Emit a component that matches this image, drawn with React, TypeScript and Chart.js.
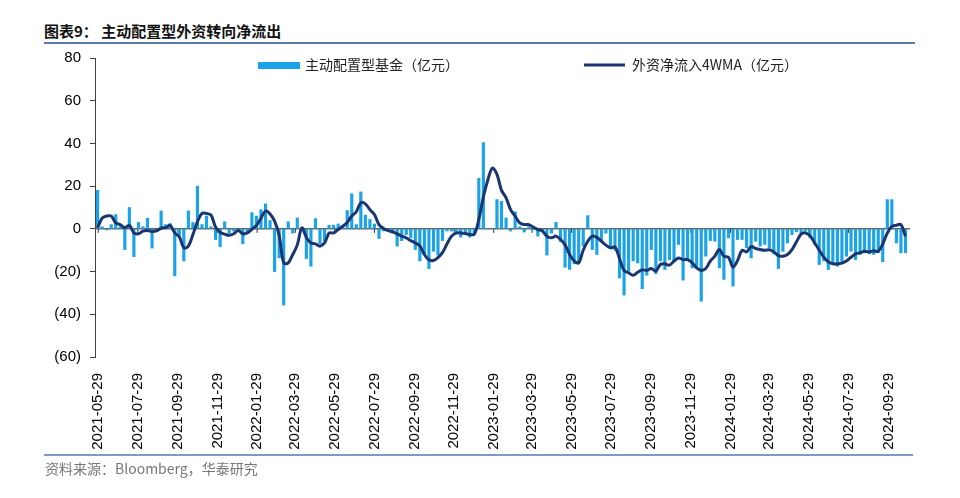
import React, { useEffect, useRef } from "react";
import { Chart, registerables } from "chart.js";
Chart.register(...registerables);

// ---------- data ----------
const START_DATE = "2021-05-28"; // first weekly observation
const tickLabels = [
  "2021-05-29", "2021-07-29", "2021-09-29", "2021-11-29",
  "2022-01-29", "2022-03-29", "2022-05-29", "2022-07-29", "2022-09-29", "2022-11-29",
  "2023-01-29", "2023-03-29", "2023-05-29", "2023-07-29", "2023-09-29", "2023-11-29",
  "2024-01-29", "2024-03-29", "2024-05-29", "2024-07-29", "2024-09-29",
];
const seriesNames = ["主动配置型基金（亿元）", "外资净流入4WMA（亿元）"];

const fundValues = [
  18, 1, -0.5, 2, 6.7, 1, -9.7, 10, -13, 3,
  1, 5, -9, -1, 8.4, 2, 2.5, -22, -3, -15,
  8.4, 3, 20, 2, 6, 1, -5, -8.4, 3.3, -2,
  -1, -1, -7, -2, 7.6, 6, 9, 11.7, 3.9, -20,
  -13.6, -35.7, 3.3, -2, 5.1, 0.5, -13.9, -17.5, 4.8, -7,
  -5.5, 1.7, 1.7, 2.3, 0.8, 8.6, 16.4, 2, 17.3, 6.4,
  4.4, 2.3, -4.5, -1, -1, -2, -8.1, -5.5, -2.7, -4.2,
  -9.7, -15, -12, -18.6, -10.5, -12.3, -5.5, -1, -1, -2,
  -3.9, -2, -3.9, -2.7, 23.7, 40.4, 0, 0, 13.7, 12.9,
  5.1, -1, 8, 1, -1.5, 1, -0.5, -3.4, -1, -12.3,
  -2, 3.1, -6, -18, -19, -16.4, -16, -8, 6.2, -9.7,
  -12, -5.8, -2, -8.9, -10, -23, -31, -19.8, -15, -16,
  -28, -21.7, -9.7, -21, -15, -19, -14.4, -15, -7.3, -24,
  -14.4, -18.3, -17.5, -33.9, -12.8, -5.5, -5.8, -18.3, -23.7, -4.2,
  -26.8, -5, -5, -8.9, -13.6, -5.8, -8.1, -7.3, -8.9, -11.7,
  -18.6, -10.5, -6.6, -2.7, -1.4, -2.7, -1, -4.2, -7.3, -16.7,
  -15, -19, -15.9, -17.5, -15, -12.8, -10.5, -14.4, -12, -11.2,
  -11.7, -12, -11.2, -15.4, 13.7, 13.7, -6.6, -11.2, -11.2,
];

const flow4wma = [
  0.5, 5, 6, 6, 2.8, 2, 0.5, 1.7, -1.9, -2.3,
  -1.1, -0.8, -1.2, -0.9, 0.3, 0.6, 1.6, -1.9, -3.7, -8.9,
  -8.1, -2.7, 3.3, 7.2, 7.2, 6.4, 0.8, -1.6, -2.5, -3,
  -2.3, -0.8, -2.3, -1.9, -0.2, 1.6, 5, 8.3, 7, 3.6,
  -3, -15.9, -15.9, -12, -7.5, 0.5, -4, -6.6, -7, -8.1,
  -6.6, -2, -1.9, -0.3, 1.2, 3, 6, 8, 12.2, 11.7,
  9, 6.7, 2, 0.2, -0.8, -1.4, -2.3, -3.4, -4.2, -5.5,
  -6.6, -8, -12, -14.5, -14.8, -13.5, -11, -7, -3.4, -2,
  -1.9, -2.2, -2.6, -2.5, 4.5, 15, 23, 28.5, 25.5, 18,
  14.5, 9, 6, 2.8, 2, 2, 0.8, -0.3, -1, -3.5,
  -4.2, -3.4, -5, -7.5, -12, -15, -15.9, -10, -5.8, -3.4,
  -4, -5.8, -7.6, -8.9, -8.5, -14, -19.5, -20.6, -21.7, -20.3,
  -19.2, -19.5, -18.6, -19.8, -16.7, -16.4, -17, -15.1, -13.6, -14.4,
  -14.4, -15.9, -18.3, -19.5, -18.6, -15.1, -12.8, -9.7, -12.8, -13.3,
  -17.9, -14.8, -10.1, -10.8, -8.3, -9.2, -9.7, -10, -9.8, -10.8,
  -12.5, -12.8, -12, -9.7, -6, -2.5, -1.9, -3.4, -6.6, -10,
  -13.2, -15.5, -16.3, -16.4, -16, -15, -13.3, -11.7, -11.2, -10.5,
  -10.8, -10.3, -10.5, -7, -2, 1.2, 1.7, 2, -3.5,
];

// ---------- helpers ----------
const BAR_COLOR = "#1aa3e8";
const LINE_COLOR = "#1b3570";
const DAY = 86400000;
const baseUtc = Date.UTC(2021, 4, 29);
function dayOf(s: string): number {
  const [y, m, d] = s.split("-").map(Number);
  return Math.round((Date.UTC(y, m - 1, d) - baseUtc) / DAY);
}
const firstDay = dayOf(START_DATE);
const xDays = fundValues.map((_, i) => firstDay + 7 * i);
const tickDays = tickLabels.map(dayOf);
const labelByDay: Record<number, string> = {};
tickDays.forEach((d, i) => (labelByDay[d] = tickLabels[i]));

const zeroLinePlugin = {
  id: "zeroLine",
  beforeDatasetsDraw(chart: any) {
    const { ctx, chartArea, scales } = chart;
    const y0 = scales.y.getPixelForValue(0);
    ctx.save();
    ctx.strokeStyle = "#666666";
    ctx.lineWidth = 1.5;
    ctx.beginPath();
    ctx.moveTo(chartArea.left, y0);
    ctx.lineTo(chartArea.right, y0);
    ctx.stroke();
    ctx.lineWidth = 1;
    ctx.strokeStyle = "#333333";
    tickDays.forEach((d) => {
      const x = scales.x.getPixelForValue(d);
      ctx.beginPath();
      ctx.moveTo(x, y0);
      ctx.lineTo(x, y0 + 4);
      ctx.stroke();
    });
    ctx.restore();
  },
};

const legendPlugin = {
  id: "customLegend",
  afterDraw(chart: any) {
    const { ctx } = chart;
    ctx.save();
    ctx.font = '14px "Noto Sans CJK SC"';
    ctx.textBaseline = "middle";
    const y = 65;
    ctx.fillStyle = BAR_COLOR;
    ctx.fillRect(258, 62, 42, 7);
    ctx.fillStyle = "#222222";
    ctx.fillText(seriesNames[0], 305, y);
    ctx.strokeStyle = LINE_COLOR;
    ctx.lineWidth = 3;
    ctx.beginPath();
    ctx.moveTo(584, y);
    ctx.lineTo(625, y);
    ctx.stroke();
    ctx.fillStyle = "#222222";
    ctx.fillText(seriesNames[1], 632, y);
    ctx.restore();
  },
};

export default function App() {
  const canvasRef = useRef<HTMLCanvasElement | null>(null);

  useEffect(() => {
    if (!canvasRef.current) return;
    const chart = new Chart(canvasRef.current, {
      type: "bar",
      data: {
        datasets: [
          {
            type: "line",
            label: seriesNames[1],
            data: xDays.map((x, i) => ({ x, y: flow4wma[i] })),
            borderColor: LINE_COLOR,
            borderWidth: 3,
            pointRadius: 0,
            tension: 0.35,
            order: 0,
          } as any,
          {
            type: "bar",
            label: seriesNames[0],
            data: xDays.map((x, i) => ({ x, y: fundValues[i] })),
            backgroundColor: BAR_COLOR,
            barThickness: 2.5,
            order: 1,
          } as any,
        ],
      },
      options: {
        responsive: false,
        animation: false,
        layout: { padding: { left: 55, right: 50, top: 58, bottom: 41 } },
        plugins: { legend: { display: false }, tooltip: { enabled: false } },
        scales: {
          x: {
            type: "linear",
            offset: false,
            min: -5,
            max: 1252,
            grid: { display: false, offset: false },
            border: { display: false },
            afterFit: (scale: any) => {
              scale.height = 100;
            },
            afterBuildTicks: (scale: any) => {
              scale.ticks = tickDays.map((v) => ({ value: v }));
            },
            ticks: {
              autoSkip: false,
              maxRotation: 90,
              minRotation: 90,
              padding: 8,
              color: "#000000",
              font: { family: "Liberation Sans", size: 15 },
              callback: (v: any) => labelByDay[v as number] ?? "",
            },
          },
          y: {
            min: -60,
            max: 80,
            afterFit: (scale: any) => {
              scale.width = 40;
            },
            grid: { drawOnChartArea: false, tickLength: 5, color: "#404040" },
            border: { color: "#404040", width: 1 },
            ticks: {
              stepSize: 20,
              padding: 9,
              color: "#000000",
              font: { family: "Liberation Sans", size: 15 },
              callback: (v: any) => (v < 0 ? `(${-v})` : `${v}`),
            },
          },
        },
      },
      plugins: [zeroLinePlugin, legendPlugin],
    });
    return () => chart.destroy();
  }, []);

  return (
    <div style={{ position: "absolute", left: 0, top: 0, width: 960, height: 498, background: "#fff" }}>
      <div
        style={{
          position: "absolute",
          left: 44,
          top: 20,
          fontFamily: '"Noto Sans CJK SC"',
          fontWeight: 700,
          fontSize: 15,
          color: "#111",
          whiteSpace: "nowrap",
        }}
      >
        图表9： 主动配置型外资转向净流出
      </div>
      <div style={{ position: "absolute", left: 44, top: 42, width: 871, height: 2, background: "#5b7bb2" }} />
      <canvas ref={canvasRef} width={960} height={498} style={{ position: "absolute", left: 0, top: 0 }} />
      <div style={{ position: "absolute", left: 44, top: 454, width: 869, height: 2, background: "#8199c2" }} />
      <div
        style={{
          position: "absolute",
          left: 45,
          top: 458,
          fontFamily: '"Noto Sans CJK SC"',
          fontSize: 14,
          color: "#777",
          whiteSpace: "nowrap",
        }}
      >
        资料来源：Bloomberg，华泰研究
      </div>
    </div>
  );
}
